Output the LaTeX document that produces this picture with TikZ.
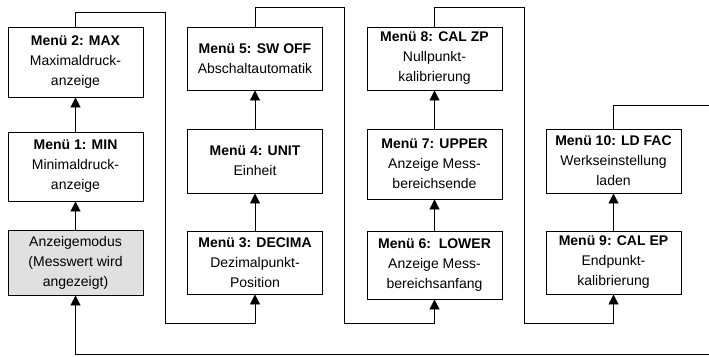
\documentclass[tikz,border=0pt]{standalone}
\usepackage{fontspec}
\setmainfont{Liberation Sans}
\usetikzlibrary{arrows.meta}

\begin{document}
\begin{tikzpicture}[x=1pt, y=-1pt, line width=0.9pt,
  every node/.style={draw, minimum width=135pt, align=center, inner sep=0pt,
    font=\fontsize{14}{20}\selectfont},
  tip/.style={-{Triangle[length=10pt, width=10pt]}}]
  \clip (0,0) rectangle (709,356);

  \node[minimum height=70pt] (M2) at (75.5, 62) {\textbf{Menü 2: MAX}\\Maximaldruck-\\anzeige};
  \node[minimum height=69pt] (M1) at (75.5, 166.5) {\textbf{Menü 1: MIN}\\Minimaldruck-\\anzeige};
  \node[minimum height=65pt, fill=black!12] (Anz) at (75.5, 262.5) {Anzeigemodus\\(Messwert wird\\angezeigt)};

  \node[minimum height=63pt] (M5) at (255, 58.5) {\textbf{Menü 5: SW OFF}\\Abschaltautomatik};
  \node[minimum height=64pt] (M4) at (255, 161) {\textbf{Menü 4: UNIT}\\Einheit};
  \node[minimum height=63pt] (M3) at (255, 262.5) {\textbf{Menü 3: DECIMA}\\Dezimalpunkt-\\Position};

  \node[minimum height=63pt] (M8) at (434.5, 58.5) {\textbf{Menü 8: CAL ZP}\\Nullpunkt-\\kalibrierung};
  \node[minimum height=70pt] (M7) at (434.5, 164) {\textbf{Menü 7: UPPER}\\Anzeige Mess-\\bereichsende};
  \node[minimum height=68pt] (M6) at (434.5, 265) {\textbf{Menü 6:\ \ LOWER}\\Anzeige Mess-\\bereichsanfang};

  \node[minimum height=64pt] (M10) at (613.5, 161) {\textbf{Menü 10: LD FAC}\\Werkseinstellung\\laden};
  \node[minimum height=63pt] (M9) at (613.5, 262.5) {\textbf{Menü 9: CAL EP}\\Endpunkt-\\kalibrierung};

  \draw[tip] (Anz) -- (M1);
  \draw[tip] (M1) -- (M2);
  \draw[tip] (M3) -- (M4);
  \draw[tip] (M4) -- (M5);
  \draw[tip] (M6) -- (M7);
  \draw[tip] (M7) -- (M8);
  \draw[tip] (M9) -- (M10);

  % from the top of one column to the foot of the next
  \draw[tip] (M2.north) |- (165, 12) -- (165, 323) -| (M3.south);
  \draw[tip] (M5.north) |- (344, 7) -- (344, 323) -| (M6.south);
  \draw[tip] (M8.north) |- (524, 7) -- (524, 323) -| (M9.south);
  \draw[tip] (M10.north) |- (715, 105) -- (715, 354.5) -| (Anz.south);
\end{tikzpicture}
\end{document}
